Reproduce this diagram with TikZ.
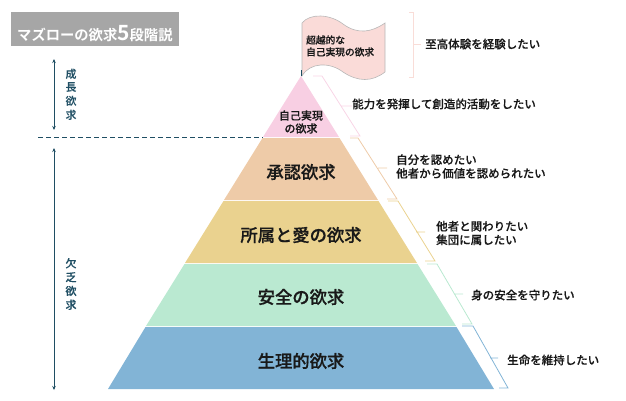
\documentclass[tikz,border=0pt]{standalone}
\usepackage{fontspec}
\setmainfont{Noto Sans CJK JP}[BoldFont={Noto Sans CJK JP Bold}]
\newfontfamily\medfont{Noto Sans CJK JP Medium}[FakeBold=0.25]
\newfontfamily\bigfont{Noto Sans CJK JP Medium}[FakeBold=0.6]
\usetikzlibrary{arrows.meta}
\definecolor{navy}{HTML}{1F4E63}
\definecolor{cpink}{HTML}{F8CFE3}
\definecolor{corange}{HTML}{EECBA8}
\definecolor{cyellow}{HTML}{EAD28F}
\definecolor{cgreen}{HTML}{BAE9D1}
\definecolor{cblue}{HTML}{82B4D6}
\definecolor{cflag}{HTML}{FADBD8}
\definecolor{cbrpink}{HTML}{F8D5E6}
\definecolor{cbrflag}{HTML}{F9DDD8}
\definecolor{cgrayt}{HTML}{A6A6A6}
\tikzset{
  x=1pt,y=-1pt,
  big/.style={inner sep=0,font=\fontsize{17.3}{20}\selectfont\bigfont,text=black!90},
  small/.style={inner sep=0,anchor=west,align=left,font=\fontsize{11.5}{13.6}\selectfont\medfont,text=black!90},
  side/.style={inner sep=0,align=center,text=navy,font=\fontsize{11}{13.8}\selectfont\bfseries},
  brk/.style={line width=0.8pt},
  span/.style={draw=navy,line width=0.9pt,{Stealth[length=4pt,width=3.5pt]}-{Stealth[length=4pt,width=3.5pt]}}
}
\begin{document}
\begin{tikzpicture}
\useasboundingbox (0,0) rectangle (626,400);
% title
\fill[cgrayt] (11,12) rectangle (179,46);
\node[inner sep=0,anchor=west,text=white,font=\fontsize{14.3}{16}\selectfont\bfseries] (title) at (17,33.5) {マズローの欲求{\fontsize{21}{16}\selectfont 5}段階説};
% pyramid
\fill[cpink]   (301,76) -- (339,137) -- (263,137) -- cycle;
\fill[corange] (339.5,138) -- (378,200) -- (224,200) -- (262.5,138) -- cycle;
\fill[cyellow] (378.5,201) -- (417,263) -- (185,263) -- (223.5,201) -- cycle;
\fill[cgreen]  (417.5,264) -- (456,326) -- (146,326) -- (184.5,264) -- cycle;
\fill[cblue]   (456.5,327) -- (494,389) -- (108,389) -- (145.5,327) -- cycle;
\node[big] (l2) at (301,172) {承認欲求};
\node[big] (l3) at (301,235) {所属と愛の欲求};
\node[big] (l4) at (301,297) {安全の欲求};
\node[big] (l5) at (301,361) {生理的欲求};
\node[inner sep=0,align=center,font=\fontsize{11}{13}\selectfont\medfont,text=black!90] (l1) at (301,122) {自己実現\\の欲求};
% flag
\filldraw[fill=cflag,draw=black!28,line width=0.6pt] (302,23)
  .. controls (310,13) and (330,14) .. (343,24)
  .. controls (358,35) and (372,32) .. (385,23)
  -- (385,72)
  .. controls (372,82) and (358,82) .. (343,72)
  .. controls (330,62) and (310,62) .. (302,76) -- cycle;
\draw[navy,line width=0.7pt] (301,70) -- (301,76);
\node[inner sep=0,anchor=west,align=left,font=\fontsize{9.7}{12}\selectfont\medfont,text=black!90] (f) at (306,46) {超越的な\\自己実現の欲求};
% brackets
\draw[brk,cbrflag] (409,12) -- (413,12) -- (413,77) -- (409,77) (413,44) -- (421,44);
\draw[brk,cbrpink] (313,76) -- (322,76) -- (360,136) -- (350,136) (341,106) -- (352,106);
\draw[brk,corange] (350,138) -- (358,138) -- (397,199) -- (387,199) (378,168) -- (387,168);
\draw[brk,cyellow] (388,201) -- (398,201) -- (435,261) -- (425,261) (416,232) -- (425,232);
\draw[brk,cgreen] (427,264) -- (437,264) -- (472,324) -- (462,324) (454,294) -- (463,294);
\draw[brk,cblue] (462,326) -- (473,326) -- (508,388) -- (499,388) (490,358) -- (498,358);
% labels
\node[small] (t0) at (425,44) {至高体験を経験したい};
\node[small] (t1) at (352,104) {能力を発揮して創造的活動をしたい};
\node[small] (t2) at (396,166.5) {自分を認めたい\\他者から価値を認められたい};
\node[small] (t3) at (436,233) {他者と関わりたい\\集団に属したい};
\node[small] (t4) at (471,295) {身の安全を守りたい};
\node[small] (t5) at (507,360) {生命を維持したい};
% left side
\coordinate (a1) at (54,59); \coordinate (a2) at (54,130);
\coordinate (b1) at (54,148); \coordinate (b2) at (54,390);
\coordinate (d1) at (38,137); \coordinate (d2) at (263,137);
\draw[span] (a1) -- (a2);
\draw[span] (b1) -- (b2);
\draw[navy,line width=0.9pt,dash pattern=on 5pt off 3pt] (d1) -- (d2);
\node[side] (s1) at (71,94.5) {成\\長\\欲\\求};
\node[side,font=\fontsize{11}{13.8}\selectfont\medfont] (s2) at (71,284) {欠\\乏\\欲\\求};
\end{tikzpicture}
\end{document}
